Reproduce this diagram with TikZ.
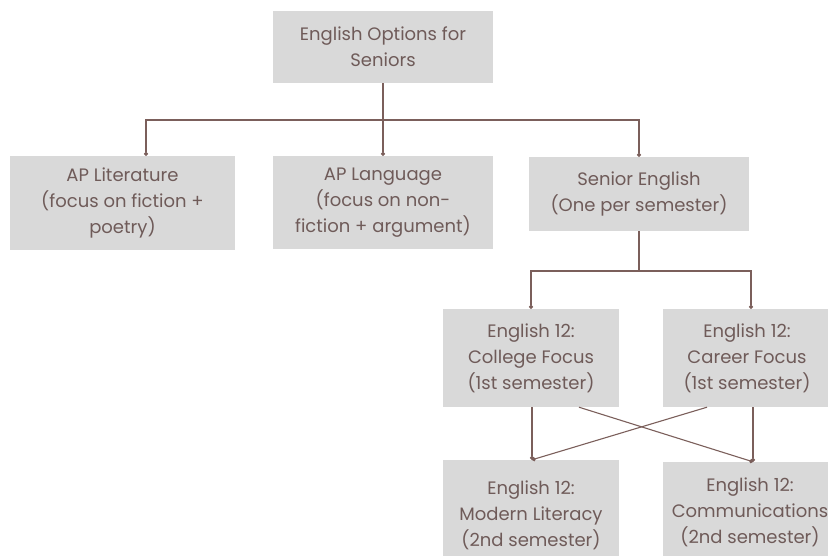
\documentclass[tikz,border=0pt]{standalone}
\usepackage{fontspec}
\setmainfont{Poppins}
\usetikzlibrary{positioning,calc,arrows.meta}
\definecolor{boxgray}{HTML}{D9D9D9}
\definecolor{txtbrown}{HTML}{6F5B59}
\definecolor{linbrown}{HTML}{7B5F5B}
\tikzset{
	%Style of nodes and links
	base/.style = {rectangle, fill=boxgray, text=txtbrown,
                           inner sep=0pt, align=center,
                           font=\fontsize{18}{26}\selectfont},
	link/.style = {draw=linbrown, line width=1.1pt,
                           -{Circle[length=4pt]}}
}

\begin{document}
\begin{tikzpicture}[x=1pt, y=-1pt]
		\useasboundingbox (0,0) rectangle (828,556);
		\clip (0,0) rectangle (828,556);
		\node (opt)  [base, minimum width=220pt, minimum height=72pt] at (383,47)    {English Options for\\Seniors};
		\node (lit)  [base, minimum width=225pt, minimum height=94pt] at (122.5,203) {AP Literature\\(focus on fiction +\\poetry)};
		\node (lang) [base, minimum width=220pt, minimum height=93pt] at (383,202.5) {AP Language\\(focus on non-\\fiction + argument)};
		\node (sen)  [base, minimum width=220pt, minimum height=74pt] at (639,194)   {Senior English\\(One per semester)};
		\node (col)  [base, minimum width=176pt, minimum height=98pt] at (531,358)   {English 12:\\College Focus\\(1st semester)};
		\node (car)  [base, minimum width=168pt, minimum height=98pt] at (747,358)   {English 12:\\Career Focus\\(1st semester)};
		\node (mod)  [base, minimum width=176pt, minimum height=110pt] at (531,515)  {English 12:\\Modern Literacy\\(2nd semester)};
		\node (com)  [base, minimum width=174pt, minimum height=100pt] at (750,512)  {English 12:\\Communications\\(2nd semester)};
		
		\coordinate (bus1) at (383,120);
		\coordinate (bus2) at (639,271);
		
		\draw[link] (opt.south) -- (bus1) -| ([xshift=23.5pt]lit.north);
		\draw[link] (bus1) -- (lang.north);
		\draw[link] (bus1) -| (sen.north);
		\draw[link] (sen.south) -- (bus2) -| (col.north);
		\draw[link] (bus2) -| ([xshift=4pt]car.north);
		\draw[link] ([xshift=1pt]col.south) -- ([xshift=1pt]mod.north);
		\draw[link] ([xshift=48pt]col.south) -- ([xshift=3pt]com.north);
		\draw[link] ([xshift=-40pt]car.south) -- ([xshift=1pt]mod.north);
		\draw[link] ([xshift=6pt]car.south) -- ([xshift=3pt]com.north);
	\end{tikzpicture}
\end{document}
